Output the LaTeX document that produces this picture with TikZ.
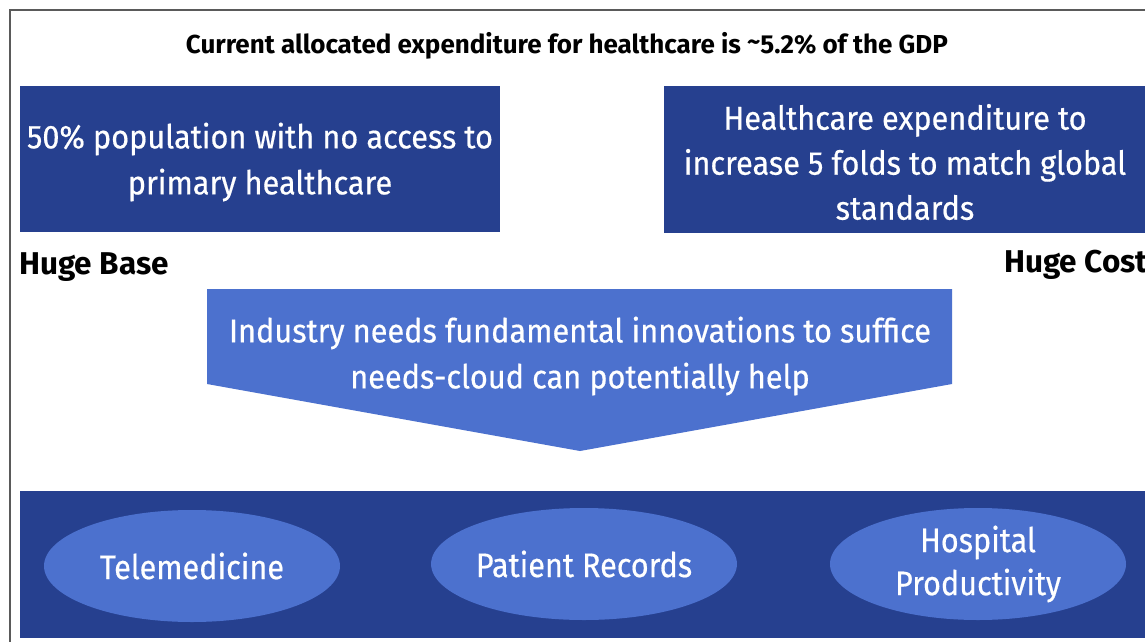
\documentclass[tikz,border=0pt]{standalone}
\usepackage{fontspec}
\setmainfont{Fira Sans}
\newfontfamily\medfont{Fira Sans}[FakeBold=0.5,FakeStretch=0.93]
\newfontfamily\ovalfont{Fira Sans}[FakeBold=0.5,FakeStretch=0.9]
\usetikzlibrary{shapes.geometric}
\definecolor{darkblue}{RGB}{38,64,143}
\definecolor{lightblue}{RGB}{76,113,206}
\definecolor{framegray}{RGB}{90,90,90}
\tikzset{
  x=1pt,y=1pt,
  box/.style={fill=darkblue,text=white,align=center,inner sep=0pt,
    font=\medfont\fontsize{33}{46}\selectfont},
  oval/.style={ellipse,fill=lightblue,text=white,align=center,inner sep=0pt,
    minimum width=296,minimum height=112,font=\ovalfont\fontsize{34}{43}\selectfont},
  heading/.style={font=\bfseries\fontsize{31.5}{32}\selectfont,text=black,inner sep=0pt}
}
\begin{document}
\begin{tikzpicture}
\useasboundingbox (0,0) rectangle (1145,-642);
\fill[white] (0,0) rectangle (1145,-642);
% frame
\draw[framegray,line width=2.2] (10,-642) -- (10,-10) -- (1145,-10);
% title
\node[font=\bfseries\fontsize{26}{28}\selectfont,inner sep=0pt] (title) at (567,-46)
  {Current allocated expenditure for healthcare is \raisebox{0.25ex}{\char"007E}5.2\% of the GDP};
% top boxes
\fill[darkblue] (20,-86) rectangle (500,-232);
\fill[darkblue] (664,-86) rectangle (1145,-233);
\node[text=white,align=center,inner sep=0pt,font=\medfont\fontsize{33}{46}\selectfont] (base) at (260,-162)
  {50\% population with no access to\\primary healthcare};
\node[text=white,align=center,inner sep=0pt,font=\medfont\fontsize{33}{45}\selectfont] (cost) at (905,-162)
  {Healthcare expenditure to\\increase 5 folds to match global\\standards};
% labels
\node[heading,anchor=west] (hb) at (19,-267) {Huge Base};
\node[heading,anchor=west] (hc) at (1004,-265) {Huge Cost};
% arrow
\fill[lightblue] (207,-289) -- (952,-289) -- (952,-384) -- (580,-451) -- (207,-384) -- cycle;
\node[text=white,align=center,inner sep=0pt,font=\medfont\fontsize{33}{46}\selectfont] (arrowtext) at (580,-356)
  {Industry needs fundamental innovations to suffice\\needs-cloud can potentially help};
% bottom band
\fill[darkblue] (20,-491) rectangle (1145,-638);
\node[oval] (tele) at (192,-566) {Telemedicine};
\node[oval] (records) at (584,-564) {Patient Records};
\node[oval] (hosp) at (978,-564) {Hospital\\Productivity};
\end{tikzpicture}
\end{document}
